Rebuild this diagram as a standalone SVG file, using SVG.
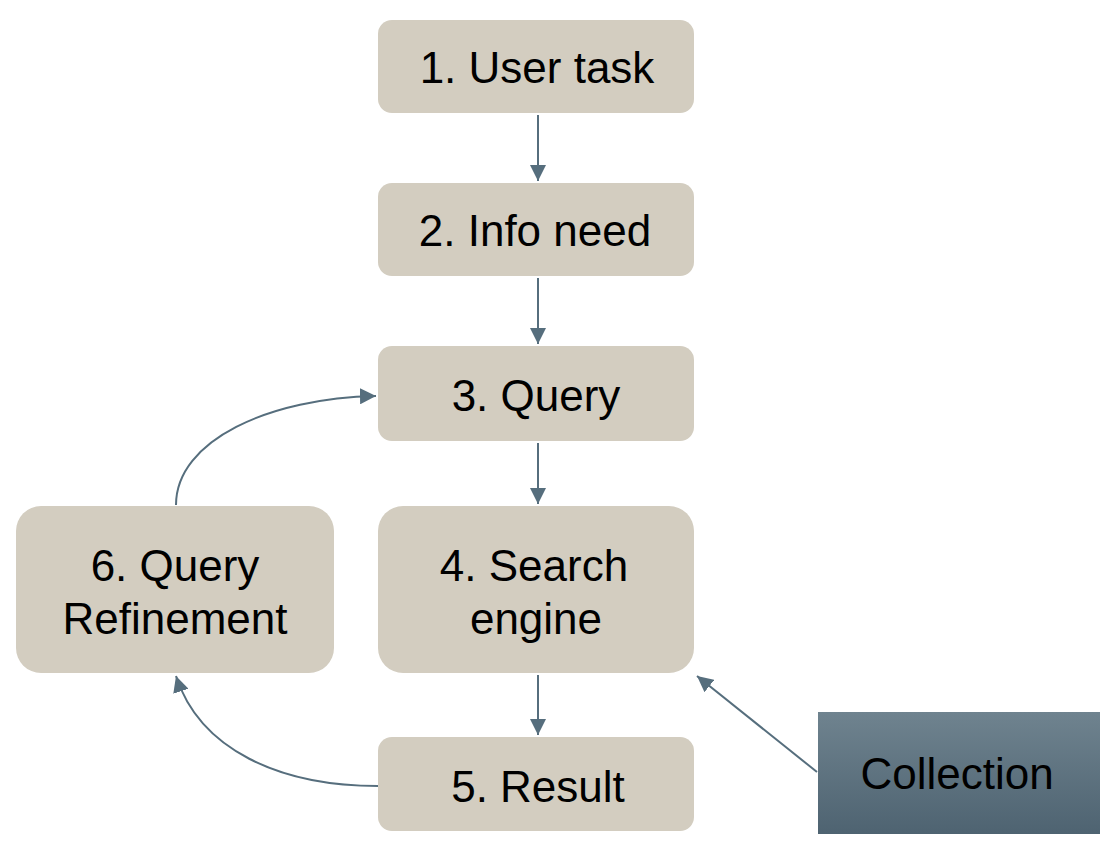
<svg xmlns="http://www.w3.org/2000/svg" width="1118" height="860" viewBox="0 0 1118 860">
<defs>
<linearGradient id="gcol" x1="0" y1="0" x2="0" y2="1">
<stop offset="0" stop-color="#6f838f"/>
<stop offset="1" stop-color="#4e6371"/>
</linearGradient>
<marker id="ahb" markerWidth="16" markerHeight="16" refX="14" refY="7" orient="auto" markerUnits="userSpaceOnUse" viewBox="0 0 14 14">
<path d="M0,0 L14,7 L0,14 Z" fill="#566e7d"/>
</marker>
</defs>
<style>
.box{fill:#d3cdc0}
.t{font-family:"Liberation Sans",Arial,sans-serif;font-size:44px;fill:#000;text-anchor:middle}
.c{fill:none;stroke:#566e7d;stroke-width:2}
</style>
<rect width="1118" height="860" fill="#fff"/>
<g id="connectors">
<line class="c" x1="538" y1="115" x2="538" y2="181" marker-end="url(#ahb)"/>
<line class="c" x1="538" y1="278" x2="538" y2="344" marker-end="url(#ahb)"/>
<line class="c" x1="538" y1="443" x2="538" y2="504" marker-end="url(#ahb)"/>
<line class="c" x1="538" y1="675" x2="538" y2="735" marker-end="url(#ahb)"/>
<path class="c" d="M176,505 C176,440 270,398 376,396" marker-end="url(#ahb)"/>
<path class="c" d="M378,786 C280,786 200,750 176,676" marker-end="url(#ahb)"/>
<line class="c" x1="817" y1="772" x2="697" y2="676" marker-end="url(#ahb)"/>
</g>
<g id="n1"><rect class="box" x="378" y="20" width="316" height="93" rx="14"/><text class="t" x="537" y="83">1. User task</text></g>
<g id="n2"><rect class="box" x="378" y="183" width="316" height="93" rx="14"/><text class="t" x="535" y="246">2. Info need</text></g>
<g id="n3"><rect class="box" x="378" y="346" width="316" height="95" rx="14"/><text class="t" x="536" y="411">3. Query</text></g>
<g id="n4"><rect class="box" x="378" y="506" width="316" height="167" rx="25"/><text class="t" x="534" y="581">4. Search</text><text class="t" x="536" y="634">engine</text></g>
<g id="n5"><rect class="box" x="378" y="737" width="316" height="94" rx="14"/><text class="t" x="538" y="802">5. Result</text></g>
<g id="n6"><rect class="box" x="16" y="506" width="318" height="167" rx="25"/><text class="t" x="175" y="581">6. Query</text><text class="t" x="175" y="634">Refinement</text></g>
<g id="collection"><rect x="818" y="712" width="282" height="122" fill="url(#gcol)"/><text class="t" x="957" y="789">Collection</text></g>
</svg>
